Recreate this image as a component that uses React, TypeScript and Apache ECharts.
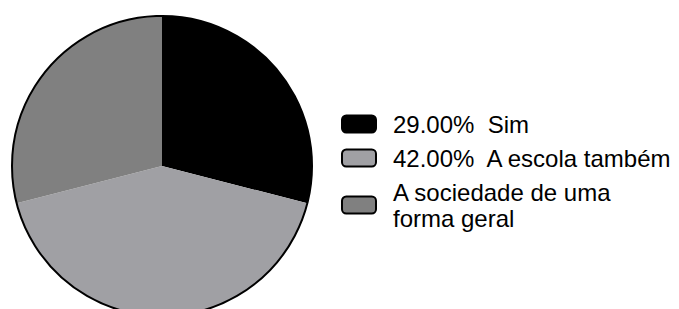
import React, { useEffect, useRef } from "react";
import * as echarts from "echarts";

const categories = ["Sim", "A escola também", "A sociedade de uma forma geral"];
const values = [29, 42, 29];
const legendLabels = ["29.00%  Sim", "42.00%  A escola também", "A sociedade de uma\nforma geral"];
const colors = ["#000000", "#a0a0a4", "#808080"];

const CX = 162;
const CY = 166;
const R = 150;

export default function App() {
  const ref = useRef<HTMLDivElement>(null);
  useEffect(() => {
    if (!ref.current) return;
    const chart = echarts.init(ref.current, undefined, { renderer: "svg" });
    chart.setOption({
      animation: false,
      backgroundColor: "#ffffff",
      legend: {
        orient: "vertical",
        left: 341,
        top: 111,
        padding: 0,
        itemGap: 8,
        itemWidth: 34,
        itemHeight: 17,
        icon: "roundRect",
        data: categories,
        selectedMode: false,
        itemStyle: { borderColor: "#000000", borderWidth: 2 },
        formatter: (name: string) => legendLabels[categories.indexOf(name)],
        textStyle: {
          fontFamily: "Liberation Sans, Arial, sans-serif",
          fontSize: 24,
          lineHeight: 26,
          color: "#000000",
          padding: [0, 0, 0, 12],
        },
      },
      graphic: [
        {
          type: "circle",
          shape: { cx: CX, cy: CY, r: R },
          style: { fill: "none", stroke: "#000000", lineWidth: 2 },
          silent: true,
          z: 100,
        },
      ],
      series: [
        {
          type: "pie",
          center: [CX, CY],
          radius: R,
          startAngle: 90,
          clockwise: true,
          label: { show: false },
          labelLine: { show: false },
          silent: true,
          itemStyle: { borderWidth: 0 },
          data: categories.map((c, i) => ({
            name: c,
            value: values[i],
            itemStyle: { color: colors[i] },
          })),
        },
      ],
    });
    return () => chart.dispose();
  }, []);
  return <div ref={ref} style={{ width: 679, height: 309, position: "absolute", left: 0, top: 0 }} />;
}
